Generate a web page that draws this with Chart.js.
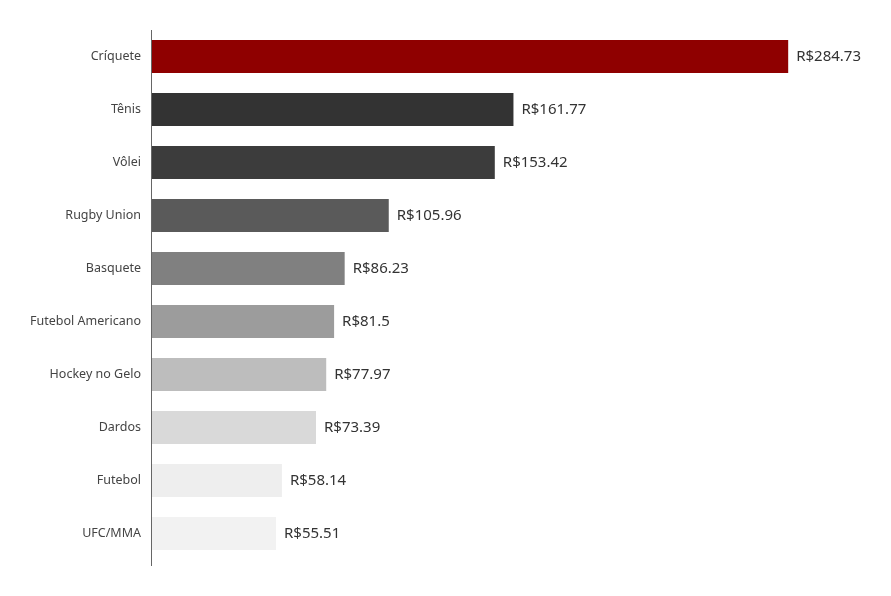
<!DOCTYPE html>
<html>
<head>
<meta charset="utf-8">
<script src="https://cdn.jsdelivr.net/npm/chart.js@4"></script>
<style>
  html, body { margin: 0; padding: 0; background: #fff; }
  #wrap { width: 891px; height: 596px; position: relative; }
</style>
</head>
<body>
<div id="wrap"><canvas id="sportsChart"></canvas></div>
<script>
// Dados
const sports = ['Críquete', 'Tênis', 'Vôlei', 'Rugby Union', 'Basquete', 'Futebol Americano', 'Hockey no Gelo', 'Dardos', 'Futebol', 'UFC/MMA'];
const amounts = [284.73, 161.77, 153.42, 105.96, 86.23, 81.5, 77.97, 73.39, 58.14, 55.51];
const barColors = ['#8f0000', '#333333', '#3c3c3c', '#5a5a5a', '#808080', '#9c9c9c', '#bdbdbd', '#d9d9d9', '#eeeeee', '#f2f2f2'];

const FONT = "'Noto Sans', sans-serif";

// Escreve o valor ao lado de cada barra e a linha do eixo
const valueLabels = {
  id: 'valueLabels',
  afterDatasetsDraw(chart) {
    const ctx = chart.ctx;
    const area = chart.chartArea;
    const meta = chart.getDatasetMeta(0);
    ctx.save();
    // linha do eixo (passa um pouco do fim da área)
    ctx.strokeStyle = '#666666';
    ctx.lineWidth = 1;
    ctx.beginPath();
    ctx.moveTo(area.left - 0.5, area.top);
    ctx.lineTo(area.left - 0.5, area.bottom + 6);
    ctx.stroke();

    ctx.font = '15px ' + FONT;
    ctx.fillStyle = '#333333';
    ctx.textAlign = 'left';
    ctx.textBaseline = 'middle';
    meta.data.forEach((bar, i) => {
      ctx.fillText('R$' + amounts[i], bar.x + 8, bar.y);
    });
    ctx.restore();
  }
};

new Chart(document.getElementById('sportsChart'), {
  type: 'bar',
  data: {
    labels: sports,
    datasets: [{
      data: amounts,
      backgroundColor: barColors,
      borderWidth: 0,
      barPercentage: 0.623,
      categoryPercentage: 1.0
    }]
  },
  options: {
    indexAxis: 'y',
    responsive: true,
    maintainAspectRatio: false,
    animation: false,
    layout: { padding: { top: 30, bottom: 36, left: 0, right: 24 } },
    plugins: {
      legend: { display: false },
      tooltip: { enabled: false }
    },
    scales: {
      x: {
        display: false,
        min: 0,
        max: 320
      },
      y: {
        grid: { display: false },
        border: { display: false },
        ticks: {
          color: '#444444',
          padding: 3,
          font: { family: FONT, size: 12.5 }
        },
        afterFit(scale) { scale.width = 152; }
      }
    }
  },
  plugins: [valueLabels]
});
</script>
</body>
</html>
